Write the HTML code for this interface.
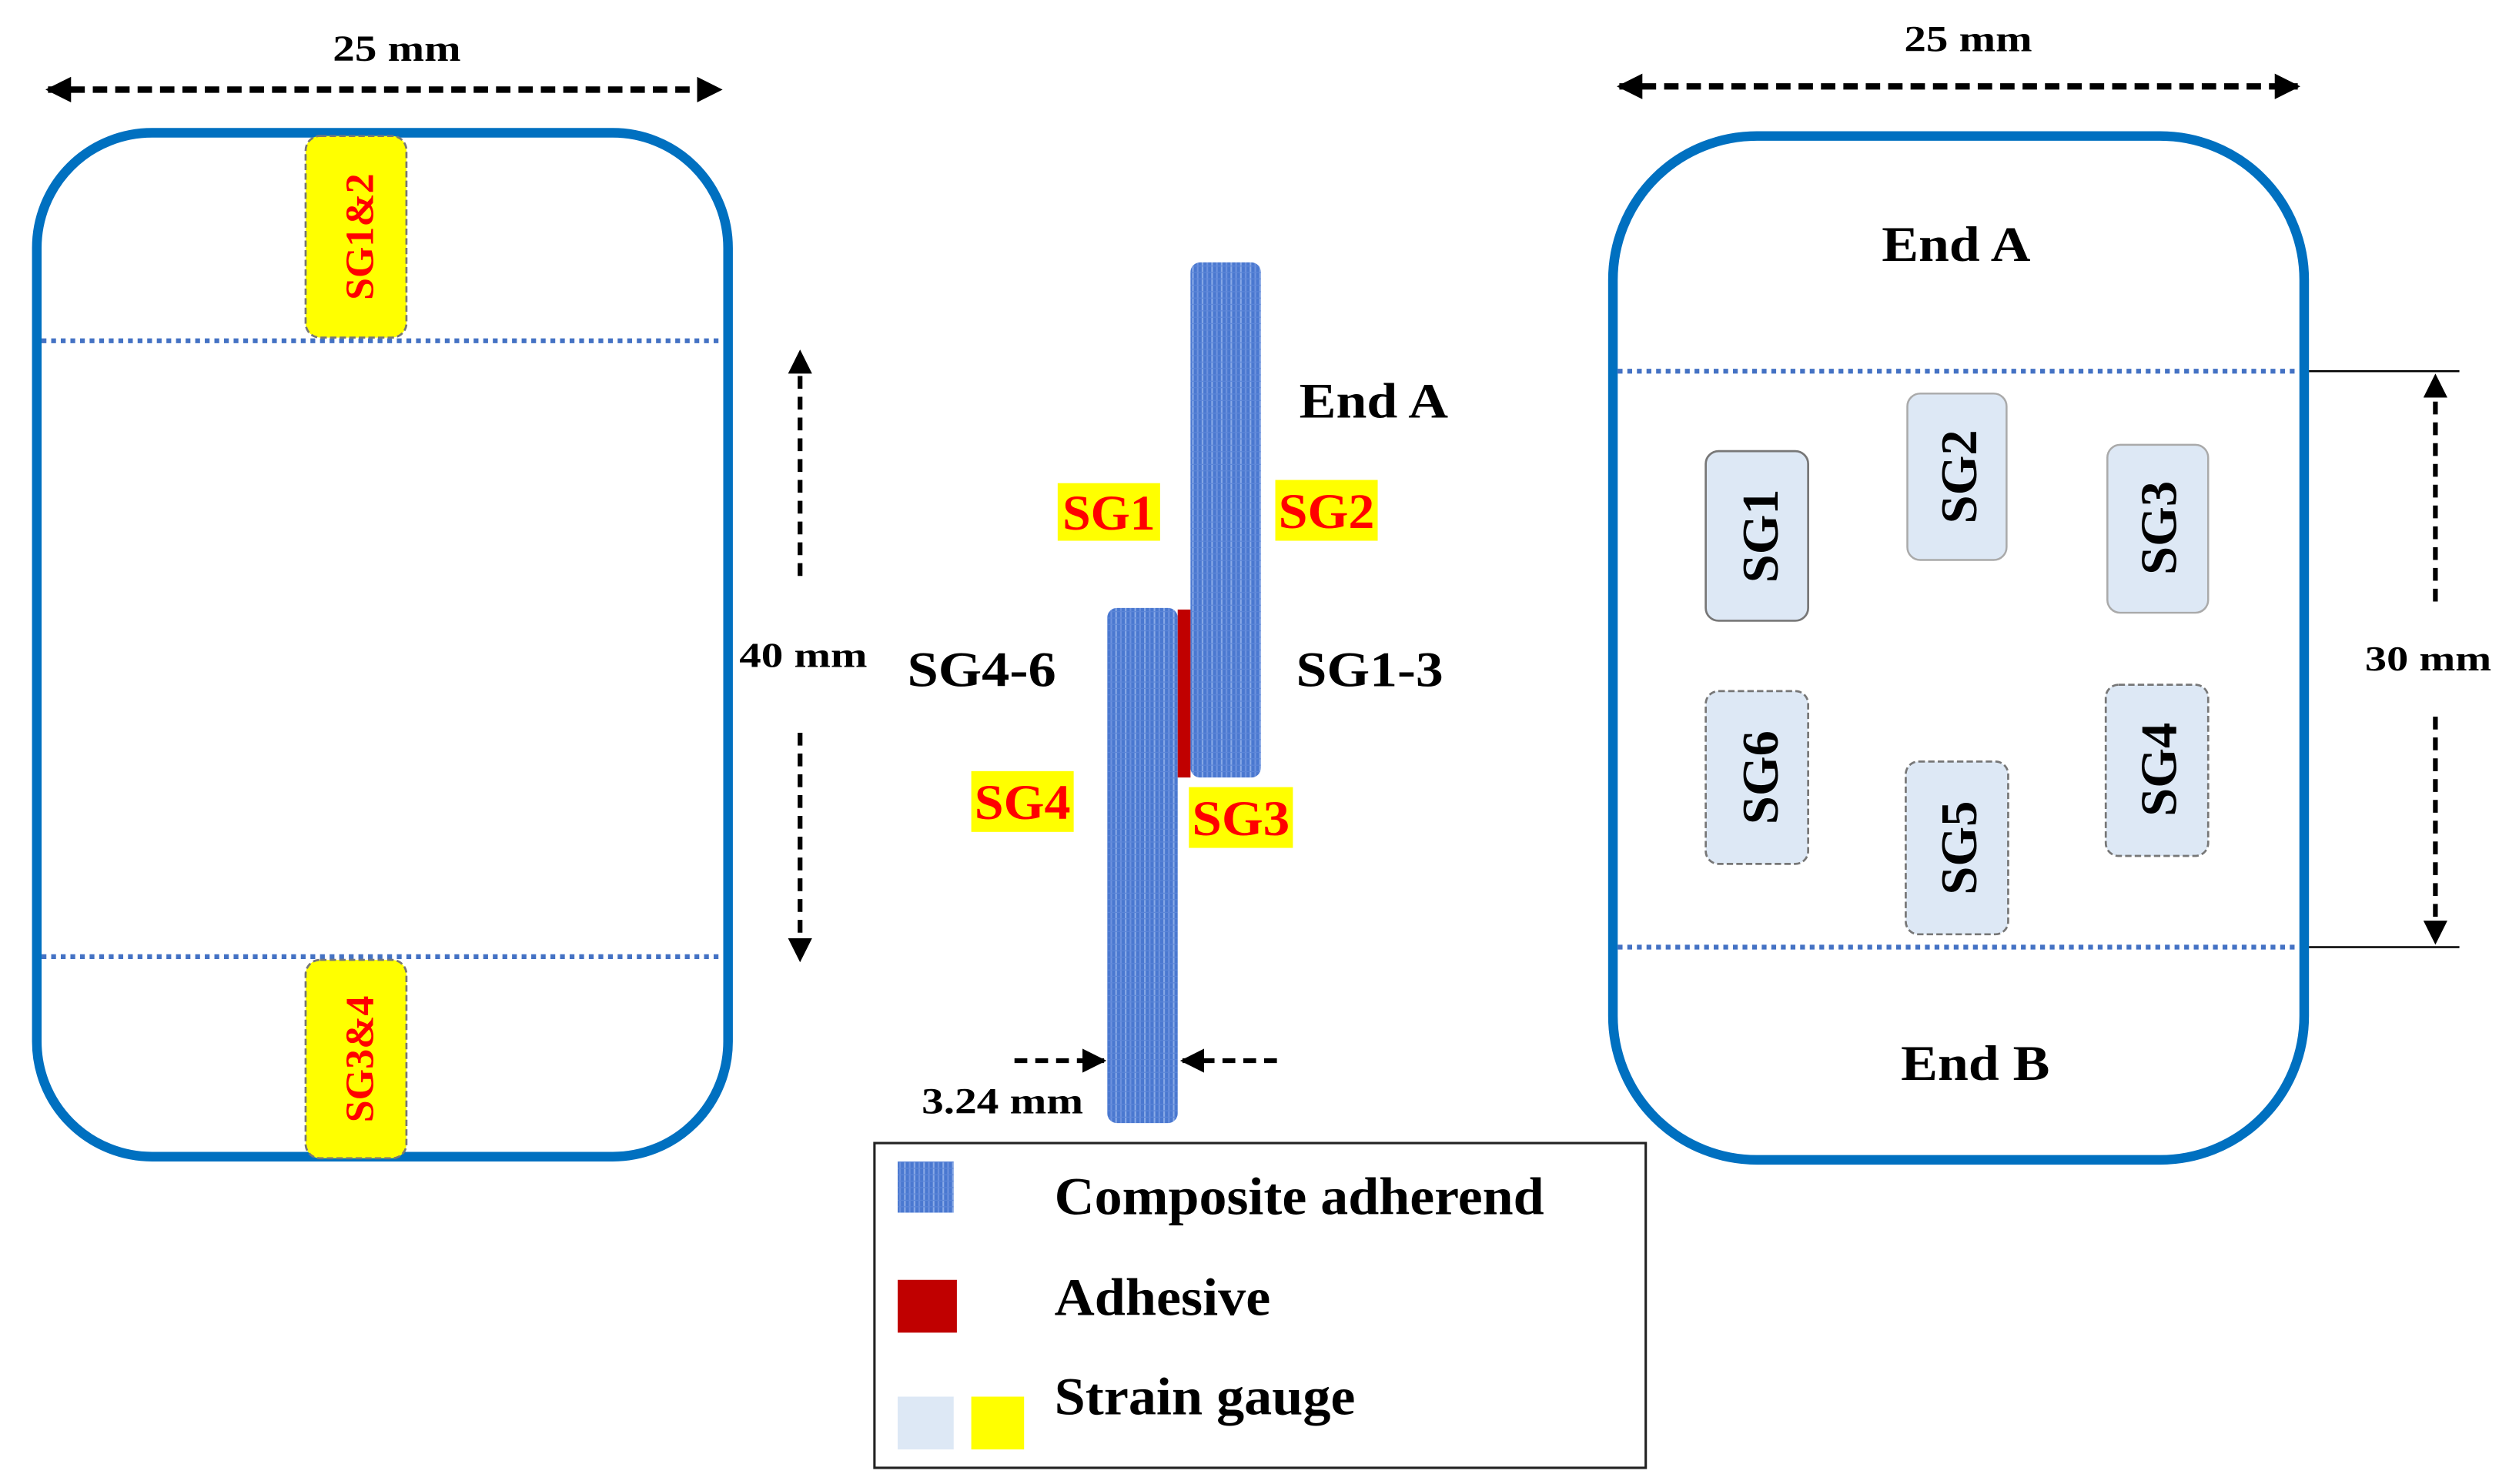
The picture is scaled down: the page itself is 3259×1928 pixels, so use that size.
<!DOCTYPE html>
<html><head><meta charset="utf-8"><style>
html,body{margin:0;padding:0;background:#fff;}
svg{display:block;}
text{font-family:"Liberation Serif",serif;font-weight:bold;}
</style></head><body>
<svg width="3259" height="1928" viewBox="0 0 1568 927.6" xmlns="http://www.w3.org/2000/svg">
<defs>
<pattern id="comp" width="6" height="4" patternUnits="userSpaceOnUse">
<rect width="6" height="4" fill="#4a78d0"/>
<rect x="1" width="1" height="4" fill="#8aaae6"/>
<rect x="4" width="1" height="4" fill="#6d92de"/>
<rect y="2" width="6" height="0.6" fill="#5c86d8"/>
</pattern>
<marker id="ah" viewBox="0 0 10 10" refX="9" refY="5" markerWidth="4" markerHeight="4" orient="auto-start-reverse" markerUnits="strokeWidth">
<path d="M0,0 L10,5 L0,10 z" fill="#000"/>
</marker>
<marker id="ah2" viewBox="0 0 10 10" refX="9" refY="5" markerWidth="5" markerHeight="5" orient="auto-start-reverse" markerUnits="strokeWidth">
<path d="M0,0 L10,5 L0,10 z" fill="#000"/>
</marker>
</defs>

<!-- LEFT PANEL -->
<text x="208" y="38" font-size="23" textLength="80" lengthAdjust="spacingAndGlyphs">25 mm</text>
<line x1="30" y1="56" x2="450" y2="56" stroke="#000" stroke-width="4" stroke-dasharray="9,5" marker-start="url(#ah)" marker-end="url(#ah)"/>
<rect x="23" y="83" width="432" height="640" rx="72" ry="72" fill="none" stroke="#0070c0" stroke-width="6"/>
<line x1="26" y1="213" x2="452" y2="213" stroke="#4472c4" stroke-width="3" stroke-dasharray="3,3"/>
<line x1="26" y1="598" x2="452" y2="598" stroke="#4472c4" stroke-width="3" stroke-dasharray="3,3"/>
<rect x="191" y="85" width="63" height="126" rx="9" fill="#ffff00" stroke="#777" stroke-width="1.3" stroke-dasharray="4,2"/>
<text transform="translate(233,148) rotate(-90)" font-size="25" fill="#ff0000" text-anchor="middle">SG1&amp;2</text>
<rect x="191" y="600" width="63" height="124" rx="9" fill="#ffff00" stroke="#777" stroke-width="1.3" stroke-dasharray="4,2"/>
<text transform="translate(233,662) rotate(-90)" font-size="25" fill="#ff0000" text-anchor="middle">SG3&amp;4</text>
<line x1="500" y1="360" x2="500" y2="220" stroke="#000" stroke-width="3" stroke-dasharray="8,5" marker-end="url(#ah2)"/>
<line x1="500" y1="458" x2="500" y2="600" stroke="#000" stroke-width="3" stroke-dasharray="8,5" marker-end="url(#ah2)"/>
<text x="462" y="417" font-size="22" textLength="80" lengthAdjust="spacingAndGlyphs">40 mm</text>

<!-- MIDDLE -->
<rect x="744" y="164" width="44" height="322" rx="6" fill="url(#comp)"/>
<rect x="692" y="380" width="44" height="322" rx="6" fill="url(#comp)"/>
<rect x="736" y="381" width="8" height="105" fill="#c00000"/>
<text x="812" y="261" font-size="31" textLength="93" lengthAdjust="spacingAndGlyphs">End A</text>
<rect x="661" y="302" width="64" height="36" fill="#ffff00"/>
<text x="664" y="331" font-size="31" fill="#ff0000" textLength="58" lengthAdjust="spacingAndGlyphs">SG1</text>
<rect x="797" y="300" width="64" height="38" fill="#ffff00"/>
<text x="799" y="330" font-size="31" fill="#ff0000" textLength="60" lengthAdjust="spacingAndGlyphs">SG2</text>
<text x="567" y="429" font-size="31" textLength="93" lengthAdjust="spacingAndGlyphs">SG4-6</text>
<text x="810" y="429" font-size="31" textLength="92" lengthAdjust="spacingAndGlyphs">SG1-3</text>
<rect x="607" y="482" width="64" height="38" fill="#ffff00"/>
<text x="609" y="512" font-size="31" fill="#ff0000" textLength="60" lengthAdjust="spacingAndGlyphs">SG4</text>
<rect x="743" y="492" width="65" height="38" fill="#ffff00"/>
<text x="745" y="522" font-size="31" fill="#ff0000" textLength="61" lengthAdjust="spacingAndGlyphs">SG3</text>
<line x1="634" y1="663" x2="690" y2="663" stroke="#000" stroke-width="3" stroke-dasharray="8,5" marker-end="url(#ah2)"/>
<line x1="798" y1="663" x2="739" y2="663" stroke="#000" stroke-width="3" stroke-dasharray="8,5" marker-end="url(#ah2)"/>
<text x="576" y="696" font-size="23" textLength="101" lengthAdjust="spacingAndGlyphs">3.24 mm</text>

<!-- LEGEND -->
<rect x="546.5" y="714.5" width="482" height="203" fill="#fff" stroke="#222" stroke-width="1.5"/>
<rect x="561" y="726" width="35" height="32" fill="url(#comp)"/>
<text x="659" y="759" font-size="33" textLength="306" lengthAdjust="spacingAndGlyphs">Composite adherend</text>
<rect x="561" y="800" width="37" height="33" fill="#c00000"/>
<text x="659" y="822" font-size="33" textLength="135" lengthAdjust="spacingAndGlyphs">Adhesive</text>
<rect x="561" y="873" width="35" height="33" fill="#dde8f5"/>
<rect x="607" y="873" width="33" height="33" fill="#ffff00"/>
<text x="659" y="884" font-size="33" textLength="188" lengthAdjust="spacingAndGlyphs">Strain gauge</text>

<!-- RIGHT PANEL -->
<text x="1190" y="32" font-size="23" textLength="80" lengthAdjust="spacingAndGlyphs">25 mm</text>
<line x1="1012" y1="54" x2="1436" y2="54" stroke="#000" stroke-width="4" stroke-dasharray="9,5" marker-start="url(#ah)" marker-end="url(#ah)"/>
<rect x="1008" y="85" width="432" height="640" rx="90" ry="90" fill="none" stroke="#0070c0" stroke-width="6"/>
<text x="1176" y="163" font-size="31" textLength="93" lengthAdjust="spacingAndGlyphs">End A</text>
<text x="1188" y="675" font-size="31" textLength="93" lengthAdjust="spacingAndGlyphs">End B</text>
<line x1="1011" y1="232" x2="1437" y2="232" stroke="#4472c4" stroke-width="3" stroke-dasharray="3,3"/>
<line x1="1011" y1="592" x2="1437" y2="592" stroke="#4472c4" stroke-width="3" stroke-dasharray="3,3"/>
<line x1="1443" y1="232" x2="1537" y2="232" stroke="#000" stroke-width="1.2"/>
<line x1="1443" y1="592" x2="1537" y2="592" stroke="#000" stroke-width="1.2"/>
<line x1="1522" y1="376" x2="1522" y2="235" stroke="#000" stroke-width="3" stroke-dasharray="8,5" marker-end="url(#ah2)"/>
<line x1="1522" y1="448" x2="1522" y2="589" stroke="#000" stroke-width="3" stroke-dasharray="8,5" marker-end="url(#ah2)"/>
<text x="1478" y="419" font-size="22" textLength="79" lengthAdjust="spacingAndGlyphs">30 mm</text>

<rect x="1066" y="282" width="64" height="106" rx="8" fill="#dde8f5" stroke="#777" stroke-width="1.3"/>
<text transform="translate(1111,335) rotate(-90)" font-size="32" text-anchor="middle">SG1</text>
<rect x="1192" y="246" width="62" height="104" rx="8" fill="#dde8f5" stroke="#aaa" stroke-width="1.2"/>
<text transform="translate(1235,298) rotate(-90)" font-size="32" text-anchor="middle">SG2</text>
<rect x="1317" y="278" width="63" height="105" rx="8" fill="#dde8f5" stroke="#aaa" stroke-width="1.2"/>
<text transform="translate(1360,330) rotate(-90)" font-size="32" text-anchor="middle">SG3</text>
<rect x="1066" y="432" width="64" height="108" rx="8" fill="#dde8f5" stroke="#777" stroke-width="1.3" stroke-dasharray="4,2"/>
<text transform="translate(1111,486) rotate(-90)" font-size="32" text-anchor="middle">SG6</text>
<rect x="1191" y="476" width="64" height="108" rx="8" fill="#dde8f5" stroke="#777" stroke-width="1.3" stroke-dasharray="4,2"/>
<text transform="translate(1235,530) rotate(-90)" font-size="32" text-anchor="middle">SG5</text>
<rect x="1316" y="428" width="64" height="107" rx="8" fill="#dde8f5" stroke="#777" stroke-width="1.3" stroke-dasharray="4,2"/>
<text transform="translate(1360,481) rotate(-90)" font-size="32" text-anchor="middle">SG4</text>
</svg>
</body></html>
